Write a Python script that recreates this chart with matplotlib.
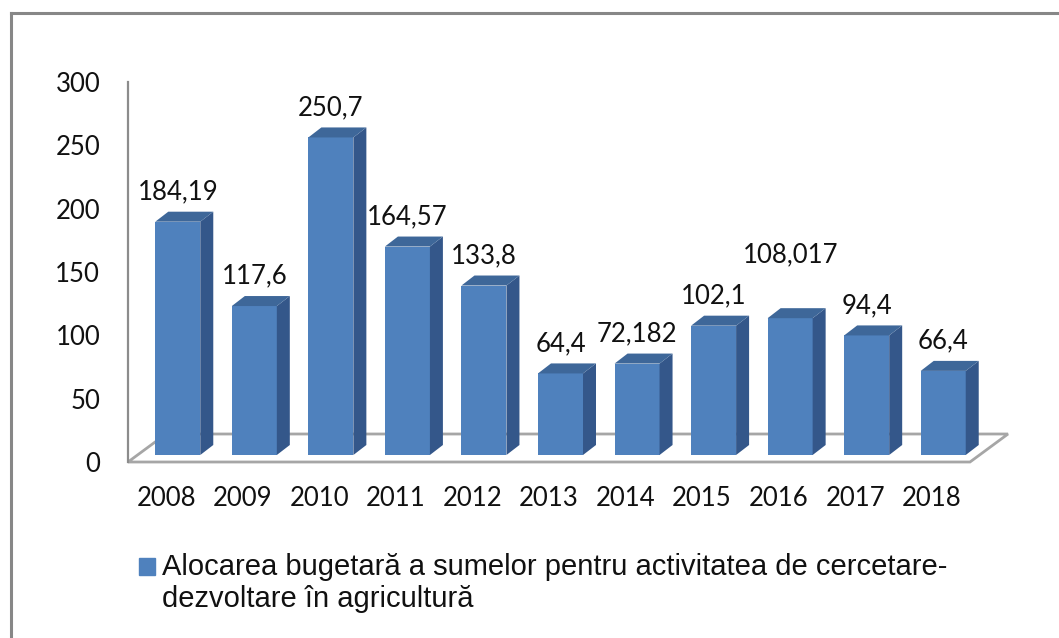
import matplotlib
matplotlib.use("Agg")
import matplotlib.pyplot as plt
from matplotlib.patches import Polygon, Rectangle
from matplotlib.lines import Line2D
import numpy as np

# data
years = ['2008', '2009', '2010', '2011', '2012', '2013', '2014', '2015', '2016', '2017', '2018']
values = [184.19, 117.6, 250.7, 164.57, 133.8, 64.4, 72.182, 102.1, 108.017, 94.4, 66.4]
value_labels = ['184,19', '117,6', '250,7', '164,57', '133,8', '64,4', '72,182',
                '102,1', '108,017', '94,4', '66,4']
legend_label = 'Alocarea bugetară a sumelor pentru activitatea de cercetare-\ndezvoltare în agricultură'

W, H = 1059, 638
front_c, side_c, top_c = '#4f81bd', '#34578a', '#3e6799'
grid_c = '#a6a6a6'
txt_c = '#111111'
num_font = ['Lato', 'DejaVu Sans']
leg_font = ['Liberation Sans Narrow', 'Liberation Sans', 'DejaVu Sans']

fig = plt.figure(figsize=(W / 100, H / 100), dpi=100)
ax = fig.add_axes([128 / W, 1 - 462 / H, (970 - 128) / W, (462 - 82) / H])
n = len(values)
ax.set_xlim(-0.5, n - 0.5)
ax.set_ylim(0, 300)

# pixel -> data unit helpers for the fake 3d depth
ppx = ax.bbox.width / n
ppy = ax.bbox.height / 300


def px(dx, dy):
    return dx / ppx, dy / ppy


fx, fy = px(11.5, 7)      # bars sit a bit behind the front edge
sx, sy = px(13, 10)       # depth of each bar
flx, fly = px(38, 28)     # depth of the floor

# floor
floor = Polygon([(-0.5, 0), (n - 0.5, 0), (n - 0.5 + flx, fly), (-0.5 + flx, fly)],
                closed=True, facecolor='white', edgecolor=grid_c, lw=2, clip_on=False, zorder=1)
ax.add_patch(floor)

x = np.arange(n) + fx
bw = 45 / ppx
ax.bar(x, values, width=bw, bottom=fy, color=front_c, zorder=3, clip_on=False)
for xi, v in zip(x, values):
    xl, xr, yt = xi - bw / 2, xi + bw / 2, v + fy
    ax.add_patch(Polygon([(xr, fy), (xr + sx, fy + sy), (xr + sx, yt + sy), (xr, yt)],
                         facecolor=side_c, edgecolor='none', zorder=3, clip_on=False))
    ax.add_patch(Polygon([(xl, yt), (xr, yt), (xr + sx, yt + sy), (xl + sx, yt + sy)],
                         facecolor=top_c, edgecolor='none', zorder=3, clip_on=False))

# data labels (the 2016 one sits higher in the original)
extra_lift = {'2016': 33}
for xi, v, lab, yr in zip(x, values, value_labels, years):
    ax.annotate(lab, (xi, v + fy), xytext=(0, 30 + extra_lift.get(yr, 0)),
                textcoords='offset pixels', ha='center', va='center',
                fontsize=18.5, family=num_font, color=txt_c, zorder=5)

for s in ['top', 'right', 'bottom']:
    ax.spines[s].set_visible(False)
ax.spines['left'].set_color('#8c8c8c')
ax.spines['left'].set_linewidth(1.6)
ax.set_yticks(range(0, 301, 50))
ax.set_xticks(range(n), years)
ax.tick_params(axis='both', length=0, labelsize=18.5, labelcolor=txt_c)
ax.tick_params(axis='y', pad=20)
ax.tick_params(axis='x', pad=17)
for t in ax.get_xticklabels() + ax.get_yticklabels():
    t.set_family(num_font)
ax.patch.set_visible(False)

# legend, drawn by hand
fig.add_artist(Rectangle((139 / W, 1 - 575 / H), 16 / W, 17 / H,
                         transform=fig.transFigure, color=front_c))
lines = legend_label.split('\n')
fig.text(162 / W, 1 - 567 / H, lines[0], va='center', ha='left', fontsize=21,
         family=leg_font, color=txt_c)
fig.text(162 / W, 1 - 599 / H, lines[1], va='center', ha='left', fontsize=21,
         family=leg_font, color=txt_c)

# chart area border (only left and top are inside the picture)
fig.add_artist(Line2D([11 / W, 11 / W], [0, 1 - 13 / H], color='#878787', lw=2.2,
                      transform=fig.transFigure))
fig.add_artist(Line2D([11 / W, 1], [1 - 13 / H, 1 - 13 / H], color='#878787', lw=2.2,
                      transform=fig.transFigure))

fig.savefig('out.png', dpi=100)
